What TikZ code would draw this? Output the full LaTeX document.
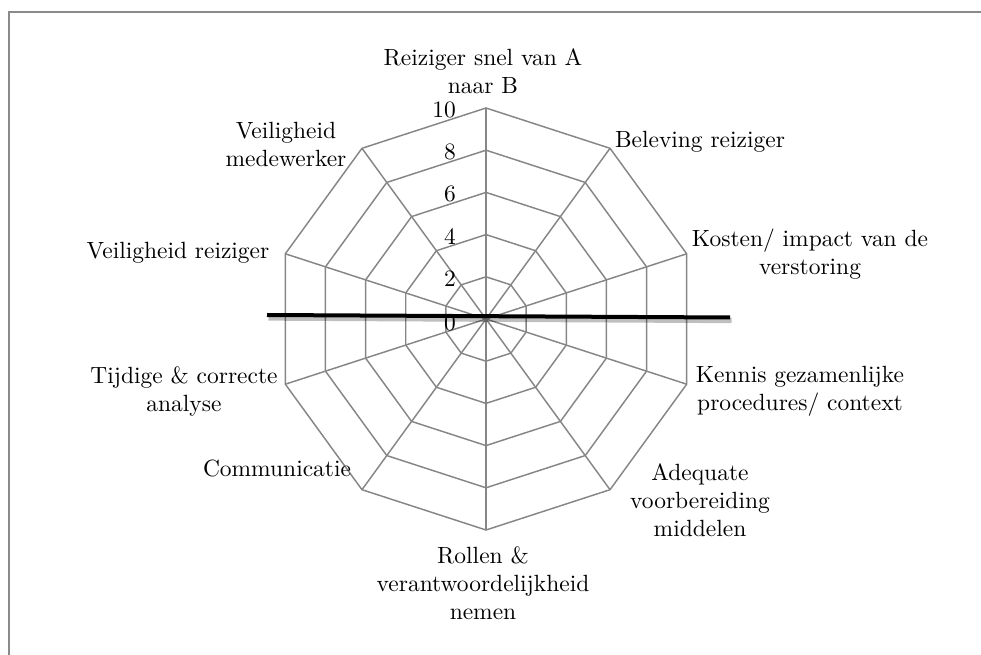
\documentclass[tikz,border=0pt]{standalone}
\usepackage{fontspec}
\setmainfont{lmroman10-regular}[Extension=.otf]
\usetikzlibrary{calc}
\definecolor{gridgray}{HTML}{868686}
\definecolor{framegray}{HTML}{8A8A8A}
\begin{document}
\begin{tikzpicture}[x=0.75pt,y=-0.75pt,
  gridline/.style={draw=gridgray,line width=1.1pt,line join=miter},
  lbl/.style={inner sep=0pt,align=center,font=\fontsize{17.6}{21}\selectfont},
  tick/.style={inner sep=0pt,anchor=east,font=\fontsize{17.6}{21}\selectfont},
  markline/.style={draw=black,line width=3pt},
  markshadow/.style={draw=black,opacity=0.25,line width=4pt}]
\useasboundingbox (0,0) rectangle (981,655);
% outer frame (open to the right and bottom)
\draw[framegray,line width=1.5pt] (9.3,655) -- (9.3,11.8) -- (981,11.8);

% radar grid: centre, radius and 10 axes
\coordinate (c) at (486,319);
\def\R{211}
\foreach \k in {0,...,9}{
  \coordinate (v\k) at ($(c)+({\R*cos(90-36*\k)},{-\R*sin(90-36*\k)})$);
  \draw[gridline] (c) -- (v\k);
}
\foreach \i in {1,...,5}{
  \foreach \k in {0,...,9}{
    \coordinate (r\i-\k) at ($(c)!\i/5!(v\k)$);
  }
  \draw[gridline] (r\i-0) -- (r\i-1) -- (r\i-2) -- (r\i-3) -- (r\i-4) --
    (r\i-5) -- (r\i-6) -- (r\i-7) -- (r\i-8) -- (r\i-9) -- cycle;
}

% scale values
\foreach \i/\t/\dy in {0/0/4,1/2/2,2/4/2,3/6/2,4/8/2,5/10/2}{
  \node[tick] (t\i) at ($(c)+(-30,{\dy-\R*\i/5})$) {\t};
}

% thick horizontal marker with its soft shadow
\coordinate (ml) at (267,315);
\coordinate (mr) at (730,317.5);
\draw[markshadow] ($(ml)+(1.5,3)$) -- ($(mr)+(1.5,3)$);
\draw[markline] (ml) -- (mr);

% axis labels
\node[lbl] (a0) at (483,71) {Reiziger snel van A\\naar B};
\node[lbl] (a1) at (700,142) {Beleving reiziger};
\node[lbl] (a2) at (810,254) {Kosten/ impact van de\\verstoring};
\node[lbl] (a3) at (800,391.5) {Kennis gezamenlijke\\procedures/ context};
\node[lbl] (a4) at (700,500) {Adequate\\voorbereiding\\middelen};
\node[lbl] (a5) at (483,583) {Rollen \&\\verantwoordelijkheid\\nemen};
\node[lbl] (a6) at (277,468) {Communicatie};
\node[lbl] (a7) at (184,391.5) {Tijdige \& correcte\\analyse};
\node[lbl] (a8) at (178,253) {Veiligheid reiziger};
\node[lbl] (a9) at (286,144) {Veiligheid\\medewerker};
\end{tikzpicture}
\end{document}
